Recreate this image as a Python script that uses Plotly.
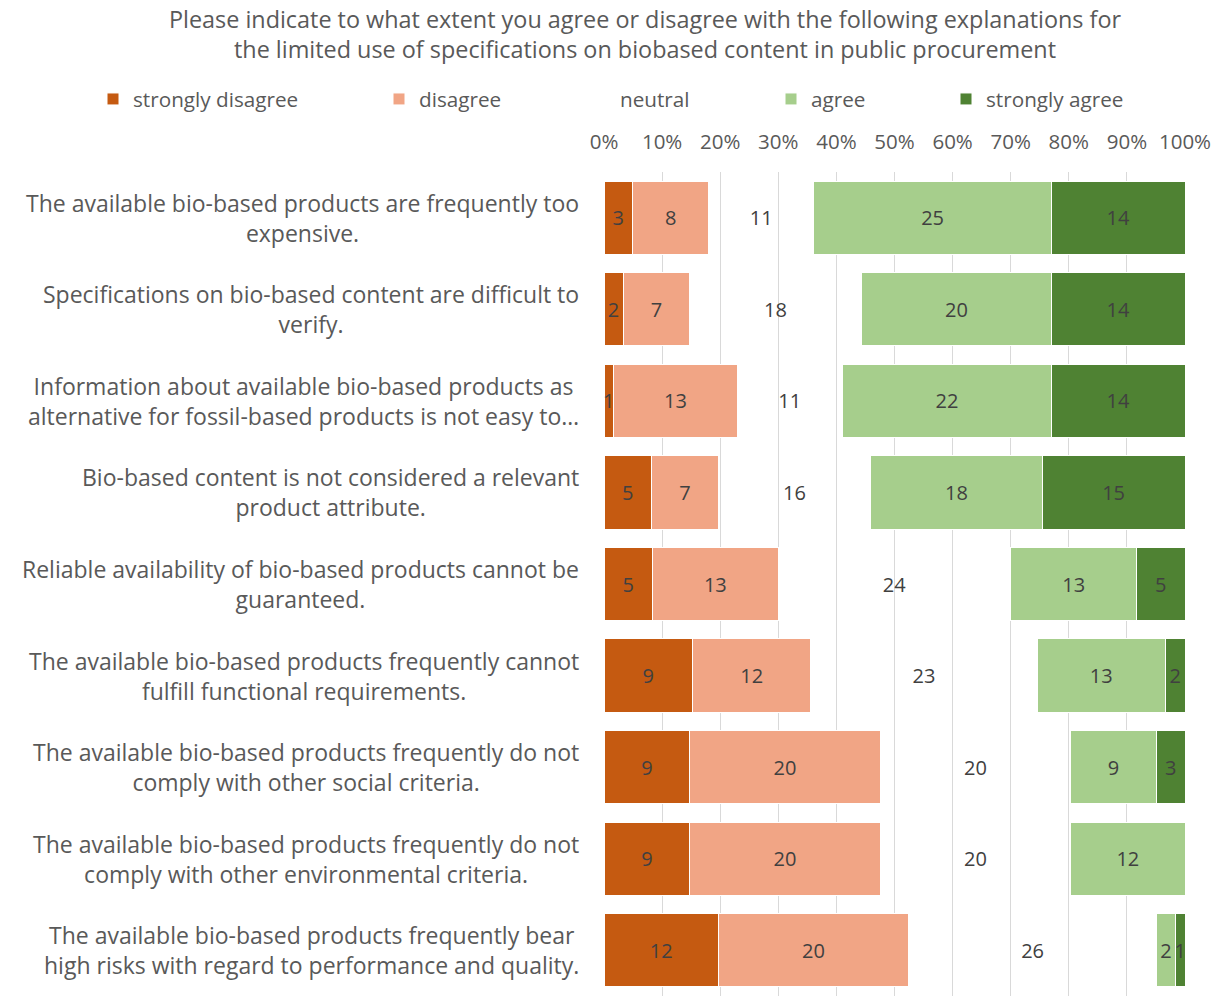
import plotly.graph_objects as go

# Survey statements (top to bottom)
statements = [
    "The available bio-based products are frequently too<br>expensive.",
    "Specifications on bio-based content are difficult to<br>verify.",
    "Information about available bio-based products as<br>alternative for fossil-based products is not easy to…",
    "Bio-based content is not considered a relevant<br>product attribute.",
    "Reliable availability of bio-based products cannot be<br>guaranteed.",
    "The available bio-based products frequently cannot<br>fulfill functional requirements.",
    "The available bio-based products frequently do not<br>comply with other social criteria.",
    "The available bio-based products frequently do not<br>comply with other environmental criteria.",
    "The available bio-based products frequently bear<br>high risks with regard to performance and quality.",
]

# Response counts per answer option
strongly_disagree = [3, 2, 1, 5, 5, 9, 9, 9, 12]
disagree = [8, 7, 13, 7, 13, 12, 20, 20, 20]
neutral = [11, 18, 11, 16, 24, 23, 20, 20, 26]
agree = [25, 20, 22, 18, 13, 13, 9, 12, 2]
strongly_agree = [14, 14, 14, 15, 5, 2, 3, 0, 1]

series_names = ["strongly disagree", "disagree", "neutral", "agree", "strongly agree"]
series_values = [strongly_disagree, disagree, neutral, agree, strongly_agree]
series_colors = ["#C55A11", "#F1A585", "rgba(0,0,0,0)", "#A6CE8C", "#4F8233"]

title_text = ("Please indicate to what extent you agree or disagree with the following explanations for<br>"
              "the limited use of specifications on biobased content in public procurement")

FONT = "Open Sans"
GRAY = "#595959"
LABEL = "#404040"

W, H = 1223, 999
ML, MR, MT, MB = 604, 38, 172, 3
plot_w = W - ML - MR

# legend item left edges in pixels
legend_px = [93, 379, 580, 771, 946]

fig = go.Figure()
for i, (name, vals, col) in enumerate(zip(series_names, series_values, series_colors)):
    fig.add_trace(go.Bar(
        name=name,
        y=statements,
        x=vals,
        orientation="h",
        marker=dict(color=col,
                    line=dict(color="white", width=0 if name == "neutral" else 1)),
        text=[str(v) if v else "" for v in vals],
        texttemplate="%{text}",
        textposition="inside",
        insidetextanchor="middle",
        constraintext="none",
        textfont=dict(family=FONT, size=20, color=LABEL),
        hoverinfo="x+y+name",
        legend="legend" if i == 0 else f"legend{i + 1}",
    ))

layout_legends = {}
for i, px in enumerate(legend_px):
    key = "legend" if i == 0 else f"legend{i + 1}"
    layout_legends[key] = dict(
        x=(px - ML) / plot_w, xref="paper", xanchor="left",
        y=1 - 99 / H, yref="container", yanchor="middle",
        orientation="h",
        font=dict(family=FONT, size=20.7, color=GRAY),
        bgcolor="rgba(0,0,0,0)",
        itemwidth=30,
    )

# statement labels, each block centred line by line, right edge left of the plot
label_annotations = [
    dict(text=s, xref="paper", x=0, xanchor="right", xshift=-23,
         yref="y", y=s, yanchor="middle", align="center", showarrow=False,
         font=dict(family=FONT, size=23, color=GRAY))
    for s in statements
]

fig.update_layout(
    width=W, height=H,
    margin=dict(l=ML, r=MR, t=MT, b=MB),
    barmode="stack",
    barnorm="fraction",
    bargap=0.2,
    plot_bgcolor="white",
    paper_bgcolor="white",
    font=dict(family=FONT, color=GRAY),
    title=dict(text=title_text, x=645 / W, xanchor="center", xref="container",
               y=1 - 28 / H, yanchor="top", yref="container",
               font=dict(family=FONT, size=23.4, color=GRAY)),
    showlegend=True,
    xaxis=dict(side="top", range=[0, 1], dtick=0.1, tickformat=".0%",
               showgrid=True, gridcolor="#D9D9D9", gridwidth=1,
               zeroline=False, showline=False, fixedrange=True,
               tickfont=dict(family=FONT, size=20.5, color=GRAY),
               ticklabelstandoff=18),
    yaxis=dict(autorange="reversed", showgrid=False, showline=False,
               showticklabels=False, ticks=""),
    annotations=label_annotations,
    **layout_legends,
)

fig.write_html("out.html")
